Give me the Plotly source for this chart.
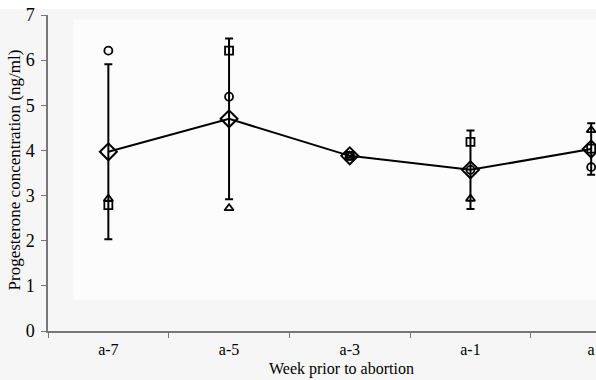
import plotly.graph_objects as go

weeks = ["a-7", "a-5", "a-3", "a-1", "a"]
mean_vals = [3.97, 4.70, 3.88, 3.57, 4.03]
sd_vals = [1.94, 1.78, None, 0.87, 0.57]
circle_vals = [6.21, 5.19, 3.88, 3.57, 3.63]
square_vals = [2.79, 6.21, 3.88, 4.19, 4.04]
triangle_vals = [2.93, 2.72, 3.88, 2.93, 4.45]

FONT = "Liberation Serif"

fig = go.Figure()

fig.add_trace(go.Scatter(
    x=weeks, y=mean_vals, mode="lines+markers",
    line=dict(color="black", width=2),
    marker=dict(symbol="diamond-open", size=13, color="black", line=dict(width=2)),
    error_y=dict(type="data", array=sd_vals, visible=True, color="black", thickness=2, width=4),
    showlegend=False,
))
for vals, sym, sz in [(circle_vals, "circle-open", 8), (square_vals, "square-open", 8), (triangle_vals, "triangle-up-open", 8)]:
    fig.add_trace(go.Scatter(
        x=weeks, y=vals, mode="markers",
        marker=dict(symbol=sym, size=sz, color="black", line=dict(width=1.8)),
        showlegend=False,
    ))

fig.update_layout(
    width=596, height=380,
    margin=dict(l=48, r=0, t=15, b=49, autoexpand=False),
    paper_bgcolor="#f6f6f6",
    plot_bgcolor="rgba(0,0,0,0)",
    font=dict(family=FONT, size=16, color="black"),
    shapes=[
        dict(type="rect", xref="paper", yref="paper", x0=-0.2, x1=1.1, y0=1.019, y1=1.06,
             fillcolor="white", line=dict(width=0), layer="below"),
        dict(type="rect", xref="x", yref="y", x0=-0.29, x1=4.6, y0=0.68, y1=6.9,
             fillcolor="#fcfcfc", line=dict(width=0), layer="below"),
    ],
    annotations=[
        dict(text="Week prior to abortion", xref="paper", yref="paper", x=0.536, y=-0.151,
             xanchor="center", yanchor="bottom", showarrow=False, borderpad=0,
             font=dict(family=FONT, size=16)),
        dict(text="Progesterone concentration (ng/ml)", xref="paper", yref="paper", x=-0.061, y=0.51,
             xanchor="center", yanchor="middle", textangle=-90, showarrow=False,
             font=dict(family=FONT, size=17)),
    ],
)
fig.update_xaxes(
    type="category", range=[-0.5, 4.04],
    showline=True, linecolor="#777777", linewidth=1.5,
    ticks="outside", tickson="boundaries", ticklen=5, tickcolor="#777777",
    ticklabelstandoff=3, automargin=False,
    showgrid=False, zeroline=False,
    tickfont=dict(family=FONT, size=16),
)
fig.update_yaxes(
    range=[0, 7], dtick=1,
    showline=True, linecolor="#777777", linewidth=1.5,
    ticks="outside", ticklen=5, tickcolor="#777777",
    ticklabelstandoff=3, automargin=False,
    showgrid=False, zeroline=False,
    tickfont=dict(family=FONT, size=18),
)

fig.write_html("out.html")
